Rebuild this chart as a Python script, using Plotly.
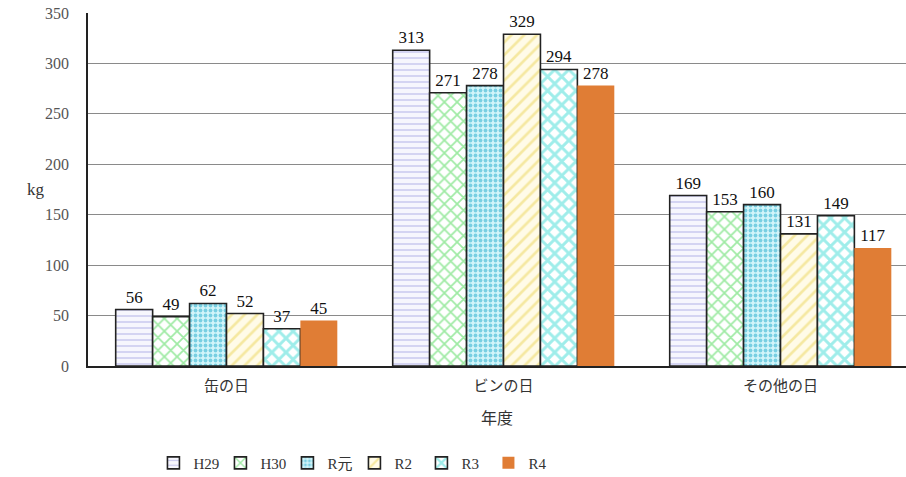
import plotly.graph_objects as go

categories = ["缶の日", "ビンの日", "その他の日"]
series_names = ["H29", "H30", "R元", "R2", "R3", "R4"]
h29 = [56, 313, 169]
h30 = [49, 271, 153]
r1 = [62, 278, 160]
r2 = [52, 329, 131]
r3 = [37, 294, 149]
r4 = [45, 278, 117]
values = [h29, h30, r1, r2, r3, r4]
y_ticks = [0, 50, 100, 150, 200, 250, 300, 350]

FONT = "Liberation Serif, Noto Sans CJK JP, serif"

styles = [
    dict(bg="#f6f6fd", fg="#9c9ce0", shape="-", size=6, sol=0.25, line=1.6),
    dict(bg="#ffffff", fg="#3fd64a", shape="x", size=9, sol=0.35, line=1.6),
    dict(bg="#d3f5fa", fg="#1ea9c9", shape=".", size=5, sol=0.45, line=1.6),
    dict(bg="#fffbe8", fg="#ecd55a", shape="/", size=9, sol=0.3, line=1.6),
    dict(bg="#ffffff", fg="#3fdcd6", shape="x", size=10, sol=0.5, line=1.6),
    dict(bg="#e07d35", fg=None, shape="", size=8, sol=0.3, line=0),
]

fig = go.Figure()
for name, vals, st in zip(series_names, values, styles):
    marker = dict(color=st["bg"], line=dict(color="#222222", width=st["line"]))
    if st["shape"]:
        marker["pattern"] = dict(shape=st["shape"], fgcolor=st["fg"], bgcolor=st["bg"],
                                 size=st["size"], solidity=st["sol"], fillmode="overlay")
    fig.add_trace(go.Bar(
        name=name, x=categories, y=vals, marker=marker,
        text=[str(v) for v in vals], textposition="outside", cliponaxis=False,
        textfont=dict(family=FONT, size=17, color="#111111"),
    ))

fig.update_layout(
    width=906, height=477,
    margin=dict(l=88, r=0, t=13, b=111, autoexpand=False),
    paper_bgcolor="white", plot_bgcolor="white",
    barmode="group", bargap=0.2, bargroupgap=0,
    font=dict(family=FONT, size=14, color="#333333"),
    showlegend=True,
    legend=dict(orientation="h", x=0.08, y=-0.275, xanchor="left", yanchor="middle",
                font=dict(family=FONT, size=15, color="#333333"),
                itemwidth=30, tracegroupgap=0, entrywidth=22),
    xaxis=dict(range=[-0.5, 2.453], showline=True, linecolor="#222222", linewidth=1.5,
               ticks="", ticklabelstandoff=5,
               tickfont=dict(family=FONT, size=15, color="#333333"),
               title=dict(text="年度", font=dict(family=FONT, size=16, color="#333333"), standoff=20),
               showgrid=False, automargin=False),
    yaxis=dict(range=[0, 350], tickvals=y_ticks, showline=True, linecolor="#222222", linewidth=1.5,
               gridcolor="#8a8a8a", gridwidth=1, ticks="", ticklabelstandoff=14,
               tickfont=dict(family=FONT, size=16, color="#555555"), zeroline=False,
               automargin=False),
    annotations=[dict(text="kg", xref="paper", yref="paper", x=-0.077, y=0.5,
                      showarrow=False, font=dict(family=FONT, size=17, color="#333333"))],
)

fig.write_html("out.html", config={"displayModeBar": False},
               post_script="document.body.style.margin='0';document.body.style.overflow='hidden';")
